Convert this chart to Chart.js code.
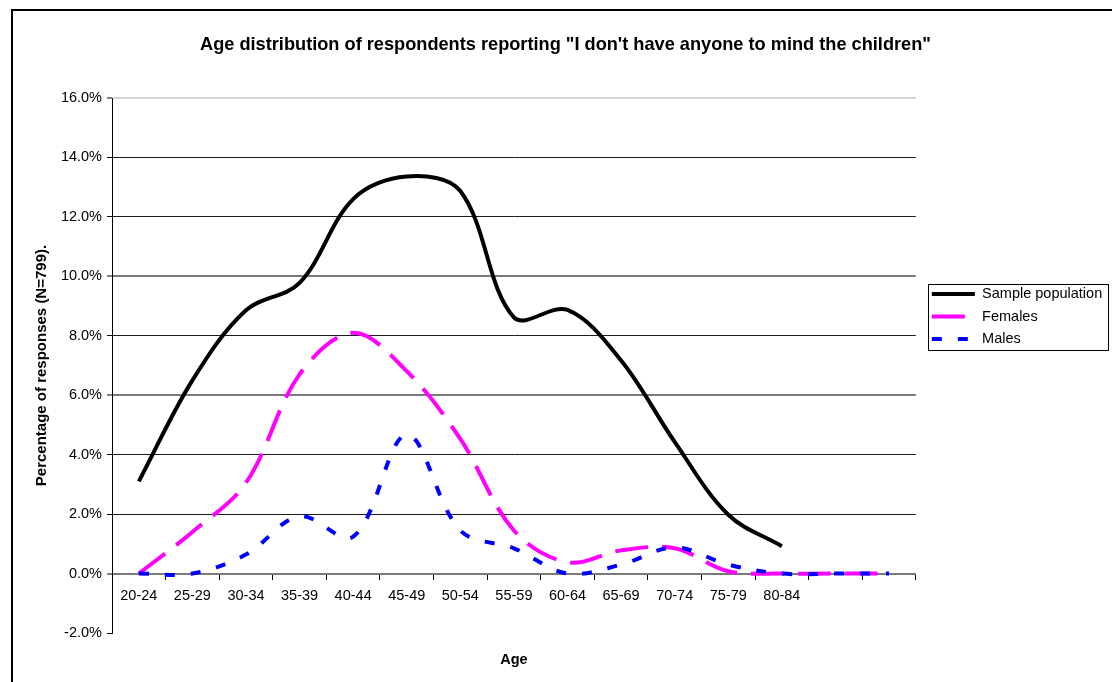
<!DOCTYPE html>
<html>
<head>
<meta charset="utf-8">
<script src="https://cdn.jsdelivr.net/npm/chart.js@4.4.1/dist/chart.umd.min.js"></script>
<style>
  html, body { margin: 0; padding: 0; background: #fff; }
  #wrap { position: relative; width: 1112px; height: 682px; overflow: hidden; background: #fff; }
  #frame { position: absolute; left: 11px; top: 9px; width: 1200px; height: 800px;
           border-top: 2px solid #000; border-left: 2px solid #000; }
  #chart { position: absolute; left: 0; top: 0; }
</style>
</head>
<body>
<div id="wrap">
  <div id="frame"></div>
  <canvas id="chart" width="1112" height="682"></canvas>
</div>
<script>
// Age bands (two trailing empty bands keep the axis running past 80-84)
const ageGroups = ['20-24', '25-29', '30-34', '35-39', '40-44', '45-49', '50-54',
                   '55-59', '60-64', '65-69', '70-74', '75-79', '80-84', '', ''];

// Percentage of responses per age band
const samplePopulation = [3.1, 6.5, 8.86, 9.78, 12.6, 13.36, 12.87, 8.62, 8.87, 7.17, 4.43, 1.98, 0.92];
const females = [0, 1.4, 3.05, 6.7, 8.1, 6.81, 4.53, 1.45, 0.38, 0.78, 0.85, 0.08, 0, 0, 0];
const males   = [0, 0, 0.64, 1.93, 1.24, 4.67, 1.45, 0.85, 0, 0.3, 0.88, 0.3, 0, 0, 0];

// Value axis
const yMin = -2, yMax = 16, yStep = 2;

const FONT = 'Liberation Sans, Arial, Helvetica, sans-serif';
Chart.defaults.font.family = FONT;
Chart.defaults.color = '#000';

// horizontal rule colours / widths per value
function ruleColor(v) {
  if (v === 16) return '#d6d6d6';
  if (v === 10 || v === 6 || v === 0) return '#7a7a7a';
  if (v === -2) return 'rgba(0,0,0,0)';
  return '#1e1e1e';
}
function ruleWidth(v) {
  if (v === 16 || v === 10 || v === 6 || v === 0) return 2;
  return 1;
}

// frame around the legend entries
const legendFrame = {
  id: 'legendFrame',
  afterDraw(chart) {
    const lg = chart.legend;
    if (!lg || !lg.legendHitBoxes || !lg.legendHitBoxes.length) return;
    const boxes = lg.legendHitBoxes;
    const first = boxes[0], last = boxes[boxes.length - 1];
    const x0 = Math.round(first.left - 4) + 0.5;
    const y0 = Math.round(first.top - 3) + 0.5;
    const x1 = x0 + 180;
    const y1 = Math.round(last.top + last.height + 4) + 0.5;
    const ctx = chart.ctx;
    ctx.save();
    ctx.strokeStyle = '#000';
    ctx.lineWidth = 1;
    ctx.setLineDash([]);
    ctx.strokeRect(x0, y0, x1 - x0, y1 - y0);
    ctx.restore();
  }
};

new Chart(document.getElementById('chart'), {
  type: 'line',
  data: {
    labels: ageGroups,
    datasets: [
      {
        label: 'Sample population',
        data: samplePopulation,
        borderColor: '#000000',
        backgroundColor: '#000000',
        borderWidth: 4,
        borderCapStyle: 'butt',
        tension: 0.35,
        pointRadius: 0,
        fill: false,
        order: 0
      },
      {
        label: 'Females',
        data: females,
        borderColor: '#ff00ff',
        backgroundColor: '#ff00ff',
        borderWidth: 4,
        borderDash: [33, 14],
        borderCapStyle: 'butt',
        tension: 0.35,
        pointRadius: 0,
        fill: false,
        order: 2
      },
      {
        label: 'Males',
        data: males,
        borderColor: '#0000ff',
        backgroundColor: '#0000ff',
        borderWidth: 4,
        borderDash: [10, 16],
        borderCapStyle: 'butt',
        tension: 0.35,
        pointRadius: 0,
        fill: false,
        order: 1
      }
    ]
  },
  options: {
    responsive: false,
    animation: false,
    events: [],
    layout: { padding: { left: 28, right: 9, top: 0, bottom: 49 } },
    scales: {
      x: {
        position: { y: 0 },
        offset: true,
        grid: { offset: true, drawOnChartArea: false, drawTicks: true, tickLength: 5, tickColor: '#000' },
        border: { display: true, color: '#7a7a7a', width: 2 },
        ticks: { autoSkip: false, maxRotation: 0, minRotation: 0, padding: 8.5, font: { size: 14.5 }, color: '#000' },
        title: { display: true, text: 'Age', color: '#000',
                 font: { size: 14.5, weight: 'bold' }, padding: { top: 38.5, bottom: 0 } }
      },
      y: {
        min: yMin,
        max: yMax,
        ticks: { stepSize: yStep, padding: 5, font: { size: 14.5 }, color: '#000',
                 callback: v => v.toFixed(1) + '%' },
        grid: {
          color: c => ruleColor(c.tick.value),
          lineWidth: c => ruleWidth(c.tick.value),
          tickColor: '#000',
          tickWidth: 1,
          tickLength: 5,
          drawTicks: true
        },
        border: { display: true, color: '#000', width: 1 },
        title: { display: true, text: 'Percentage of responses (N=799).', color: '#000',
                 font: { size: 15, weight: 'bold' }, padding: { top: 4.5, bottom: 0 } },
        afterFit(scale) { scale.width = 84; }
      },
      gutter: {
        type: 'linear',
        position: 'right',
        display: true,
        ticks: { display: false },
        grid: { display: false, drawTicks: false },
        border: { display: false },
        afterFit(scale) { scale.width = 8; }
      }
    },
    plugins: {
      tooltip: { enabled: false },
      title: {
        display: true,
        text: 'Age distribution of respondents reporting "I don\'t have anyone to mind the children"',
        color: '#000',
        font: { size: 18.2, weight: 'bold' },
        padding: { top: 34, bottom: 42.2 }
      },
      legend: {
        position: 'right',
        align: 'center',
        labels: {
          font: { size: 14.5 },
          color: '#000',
          usePointStyle: true,
          pointStyle: 'line',
          pointStyleWidth: 43,
          padding: 8,
          sort: (a, b) => a.datasetIndex - b.datasetIndex,
          generateLabels(chart) {
            const items = Chart.defaults.plugins.legend.labels.generateLabels(chart);
            items.forEach(it => {
              const ds = chart.data.datasets[it.datasetIndex];
              it.lineDash = ds.borderDash || [];
              it.lineDashOffset = 0;
              it.lineWidth = ds.borderWidth;
              it.strokeStyle = ds.borderColor;
              it.fillStyle = ds.borderColor;
              it.lineCap = 'butt';
            });
            return items;
          }
        }
      }
    }
  },
  plugins: [legendFrame]
});
</script>
</body>
</html>
